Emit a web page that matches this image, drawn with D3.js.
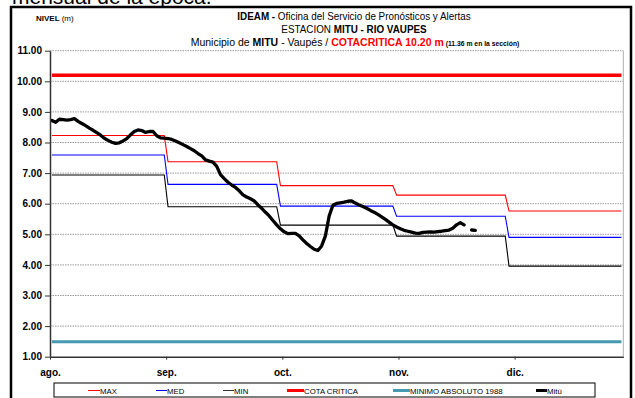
<!DOCTYPE html>
<html>
<head>
<meta charset="utf-8">
<script src="https://cdn.jsdelivr.net/npm/d3@7/dist/d3.min.js"></script>
<style>
  html, body { margin: 0; padding: 0; background: #fff; }
  svg { display: block; }
  .narrow { font-family: "Liberation Sans Narrow", "Arial Narrow", "Liberation Sans", Arial, sans-serif; }
  .bold { font-family: "Liberation Sans", Arial, sans-serif; font-weight: bold; }
</style>
</head>
<body>
<svg id="chart" width="635" height="398"></svg>
<script>
// Months shown on the axis and their lengths in days (Aug 1 – Dec 31)
const months = ["ago.", "sep.", "oct.", "nov.", "dic."];
const monthDays = [31, 30, 31, 30, 31];
const tickEvery = 31;            // category interval between month labels
const yTicks = [1, 2, 3, 4, 5, 6, 7, 8, 9, 10, 11];

// Historical monthly levels (m)
const maxLevels = [8.23, 7.37, 6.59, 6.28, 5.76];
const medLevels = [7.59, 6.63, 5.92, 5.59, 4.90];
const minLevels = [6.94, 5.90, 5.30, 4.94, 3.96];

// Reference levels (m)
const cotaCritica = 10.20;
const minimoAbsoluto = 1.49;

// Daily level at Mitú starting Aug 1 (null = no reading)
const mituDaily = [
  8.72, 8.66, 8.76, 8.75, 8.73, 8.75, 8.78, 8.69, 8.62, 8.55,
  8.47, 8.40, 8.32, 8.24, 8.14, 8.07, 8.01, 7.97, 7.99, 8.05,
  8.13, 8.25, 8.36, 8.41, 8.39, 8.33, 8.36, 8.36, 8.22, 8.15,
  8.14, 8.13, 8.10, 8.05, 7.99, 7.93, 7.87, 7.80, 7.73, 7.64,
  7.56, 7.43, 7.39, 7.36, 7.22, 6.95, 6.82, 6.70, 6.61, 6.53,
  6.42, 6.29, 6.22, 6.16, 6.09, 5.96, 5.85, 5.72, 5.60, 5.45,
  5.31, 5.18, 5.08, 5.02, 5.03, 5.03, 4.95, 4.82, 4.70, 4.60,
  4.51, 4.47, 4.62, 4.95, 5.60, 5.95, 6.01, 6.03, 6.05, 6.08,
  6.09, 6.02, 5.96, 5.91, 5.85, 5.78, 5.72, 5.65, 5.57, 5.49,
  5.40, 5.31, 5.24, 5.18, 5.13, 5.10, 5.07, 5.04, 5.03, 5.06,
  5.07, 5.08, 5.07, 5.09, 5.10, 5.12, 5.14, 5.20, 5.31, 5.38,
  5.31, null, 5.14, 5.13
];

const totalDays = d3.sum(monthDays);

const svg = d3.select("#chart");

// Outer frame and the caption running above it
svg.append("text")
  .attr("x", 12).attr("y", 4)
  .attr("font-family", "Liberation Sans, Arial, sans-serif")
  .attr("font-size", 21)
  .text("mensual de la época.");

svg.append("rect")
  .attr("x", 11).attr("y", 7)
  .attr("width", 620).attr("height", 400)
  .attr("fill", "none").attr("stroke", "#000").attr("stroke-width", 2.5);

const plot = { left: 50, right: 623.3, top: 50.7, bottom: 356.7 };

const x = d3.scaleLinear().domain([0, totalDays]).range([plot.left, plot.right]);
const y = d3.scaleLinear().domain([1, 11]).range([plot.bottom, plot.top]);
const xc = i => x(i + 0.5);   // centre of a day's category

// Gridlines
svg.append("g")
  .selectAll("line")
  .data(yTicks.slice(1))
  .join("line")
  .attr("x1", plot.left).attr("x2", plot.right)
  .attr("y1", d => y(d)).attr("y2", d => y(d))
  .attr("stroke", "#9a9a9a").attr("stroke-width", 1)
  .attr("stroke-dasharray", "1.5,1");

// Plot-area right edge
svg.append("line")
  .attr("x1", plot.right).attr("x2", plot.right)
  .attr("y1", plot.top).attr("y2", plot.bottom)
  .attr("stroke", "#b0b0b0").attr("stroke-width", 1);

// Month start indices
const monthStart = monthDays.map((d, k) => d3.sum(monthDays.slice(0, k)));

// Step lines: each month flat, joined day-to-day at month changes
function stepPoints(levels) {
  const pts = [];
  levels.forEach((v, k) => {
    pts.push([monthStart[k], v]);
    pts.push([monthStart[k] + monthDays[k] - 1, v]);
  });
  return pts;
}
const lineGen = d3.line().x(d => xc(d[0])).y(d => y(d[1]));

const steps = [
  { data: minLevels, color: "#000000" },
  { data: medLevels, color: "#0000ff" },
  { data: maxLevels, color: "#ff0000" }
];
steps.forEach(s => {
  svg.append("path")
    .attr("d", lineGen(stepPoints(s.data)))
    .attr("fill", "none").attr("stroke", s.color).attr("stroke-width", 1.1);
});

// Critical and historic-minimum levels
svg.append("line")
  .attr("x1", xc(0)).attr("x2", xc(totalDays - 1))
  .attr("y1", y(cotaCritica)).attr("y2", y(cotaCritica))
  .attr("stroke", "#ff0000").attr("stroke-width", 3.5);

svg.append("line")
  .attr("x1", xc(0)).attr("x2", xc(totalDays - 1))
  .attr("y1", y(minimoAbsoluto)).attr("y2", y(minimoAbsoluto))
  .attr("stroke", "#4599b0").attr("stroke-width", 3);

// Observed daily series
const mituLine = d3.line()
  .defined(d => d != null)
  .x((d, i) => xc(i))
  .y(d => y(d));
svg.append("path")
  .attr("d", mituLine(mituDaily))
  .attr("fill", "none").attr("stroke", "#000").attr("stroke-width", 3.3)
  .attr("stroke-linejoin", "round").attr("stroke-linecap", "round");

// Y axis
const yAxis = d3.axisLeft(y).tickValues(yTicks).tickFormat(d3.format(".2f"))
  .tickSize(5).tickSizeOuter(0).tickPadding(3);
const gy = svg.append("g").attr("transform", `translate(${plot.left},0)`).call(yAxis);
gy.select(".domain").attr("stroke", "#333").attr("stroke-width", 1.5);
gy.selectAll(".tick line").attr("stroke", "#333");
gy.selectAll("text")
  .attr("class", "bold").attr("font-size", 10).attr("fill", "#000");

// X axis: month labels every 31 categories
const xTickIdx = months.map((m, k) => k * tickEvery);
const xAxis = d3.axisBottom(x).tickValues(xTickIdx)
  .tickFormat((d, k) => months[k]).tickSize(3).tickSizeOuter(0).tickPadding(9);
const gx = svg.append("g").attr("transform", `translate(0,${plot.bottom})`).call(xAxis);
gx.select(".domain").attr("stroke", "#333").attr("stroke-width", 1.5);
gx.selectAll(".tick line").attr("stroke", "#333");
gx.selectAll("text")
  .attr("class", "bold").attr("font-size", 10).attr("fill", "#000");

// Header texts (condensed horizontally around the centre line)
const nivel = svg.append("text").attr("x", 36).attr("y", 21).attr("class", "narrow").attr("font-size", 8);
nivel.append("tspan").attr("font-weight", "bold").text("NIVEL ");
nivel.append("tspan").text("(m)");

const cx = 354;
const squeeze = k => `translate(${cx},0) scale(${k},1) translate(${-cx},0)`;

const t1 = svg.append("text").attr("x", cx).attr("y", 20).attr("text-anchor", "middle")
  .attr("class", "narrow").attr("font-size", 10.5).attr("transform", squeeze(0.94));
t1.append("tspan").attr("font-weight", "bold").text("IDEAM - ");
t1.append("tspan").text("Oficina del Servicio de Pronósticos y Alertas");

const t2 = svg.append("text").attr("x", cx).attr("y", 33).attr("text-anchor", "middle")
  .attr("class", "narrow").attr("font-size", 10.5).attr("transform", squeeze(0.94));
t2.append("tspan").text("ESTACION ");
t2.append("tspan").attr("font-weight", "bold").text("MITU - RIO VAUPES");

const t3 = svg.append("text").attr("x", cx + 1).attr("y", 45.5).attr("text-anchor", "middle")
  .attr("class", "narrow").attr("font-size", 10.5);
t3.append("tspan").text("Municipio de ");
t3.append("tspan").attr("font-weight", "bold").text("MITU");
t3.append("tspan").text(" - Vaupés / ");
t3.append("tspan").attr("font-weight", "bold").attr("fill", "#ff0000").text("COTACRITICA 10.20 m");
t3.append("tspan").attr("font-weight", "bold").attr("font-size", 6.8).text("  (11.36 m  en la sección)");

// Legend
svg.append("rect")
  .attr("x", 54).attr("y", 383).attr("width", 541).attr("height", 14)
  .attr("fill", "#fff").attr("stroke", "#000").attr("stroke-width", 1);

const legendItems = [
  { label: "MAX", color: "#ff0000", w: 1, x0: 88, len: 12 },
  { label: "MED", color: "#0000ff", w: 1, x0: 156, len: 11 },
  { label: "MIN", color: "#333333", w: 1, x0: 223, len: 11 },
  { label: "COTA CRITICA", color: "#ff0000", w: 3, x0: 287, len: 17 },
  { label: "MINIMO ABSOLUTO 1988", color: "#4599b0", w: 3, x0: 393, len: 17 },
  { label: "Mitú", color: "#000000", w: 3, x0: 536, len: 11 }
];
const lg = svg.append("g").selectAll("g").data(legendItems).join("g");
lg.append("line")
  .attr("x1", d => d.x0).attr("x2", d => d.x0 + d.len)
  .attr("y1", 390.5).attr("y2", 390.5)
  .attr("stroke", d => d.color).attr("stroke-width", d => d.w);
lg.append("text")
  .attr("x", d => d.x0 + d.len).attr("y", 393.5)
  .attr("class", "narrow").attr("font-size", 7.8)
  .text(d => d.label);
</script>
</body>
</html>
